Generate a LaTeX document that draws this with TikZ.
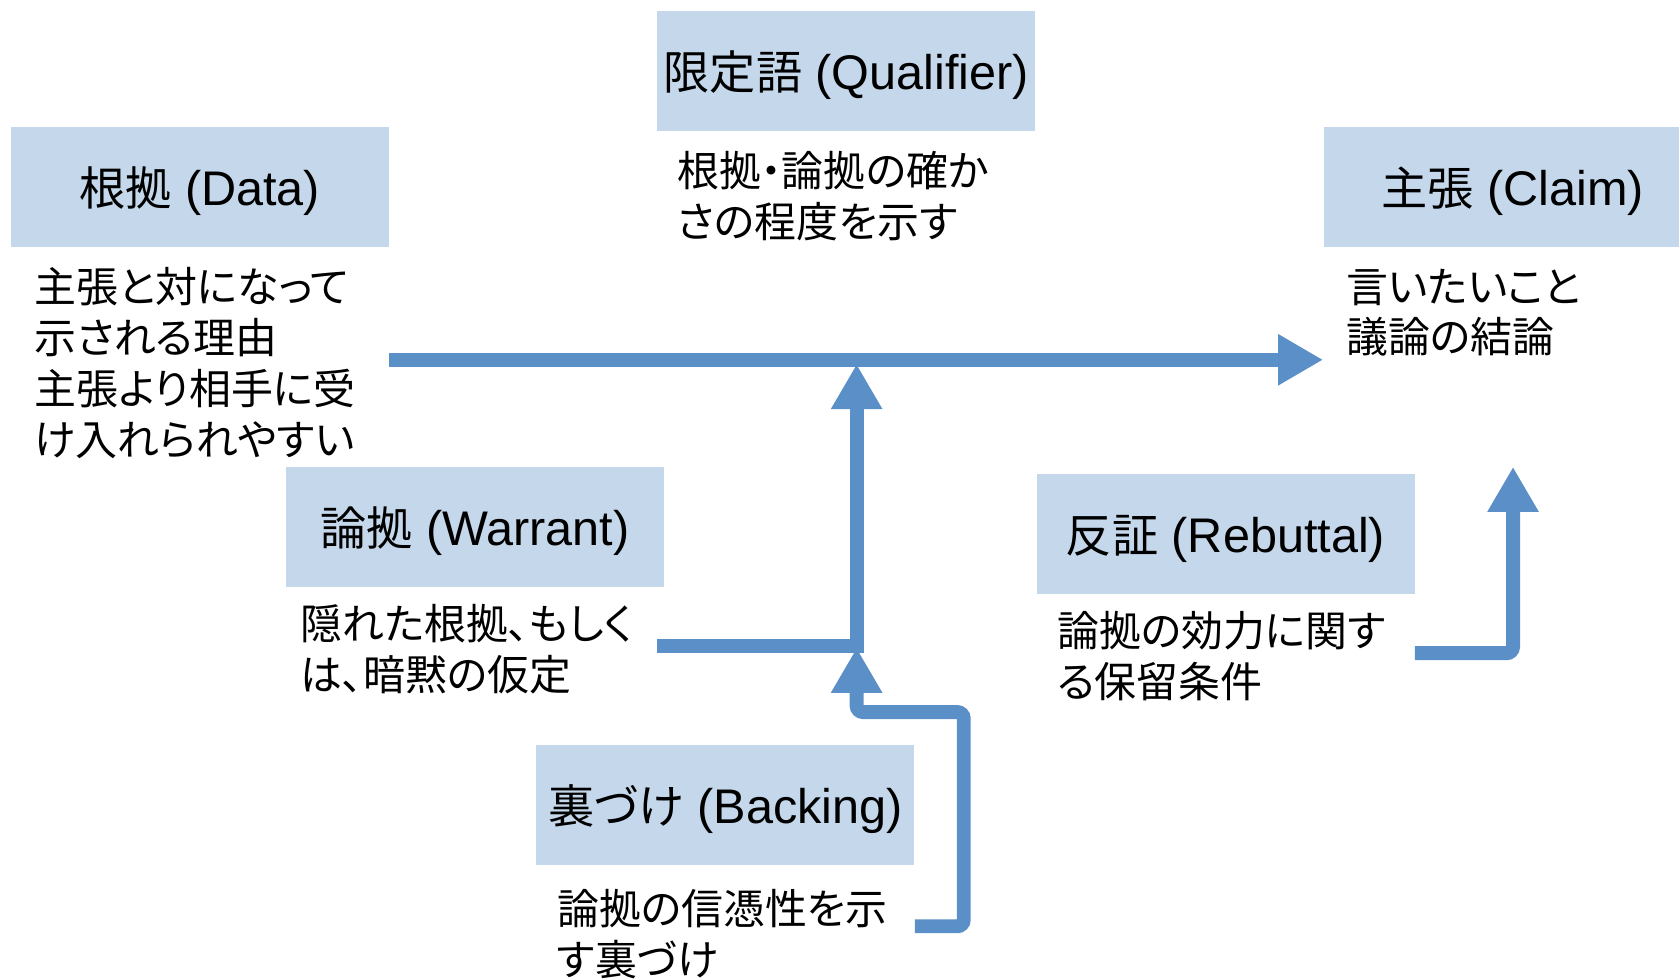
\documentclass[tikz,border=0pt]{standalone}
\usepackage{fontspec}
\setmainfont{Liberation Sans}
\newfontfamily\jp[Scale=0.95,RawFeature=+palt]{Noto Sans CJK JP}
\usetikzlibrary{arrows.meta}
\definecolor{boxblue}{RGB}{197,216,235}
\definecolor{arrowblue}{RGB}{91,143,199}
\tikzset{
  titlebox/.style={fill=boxblue, minimum width=176.5pt, minimum height=56pt, inner sep=0pt,
    text height=22pt, font=\fontsize{22.7}{27}\selectfont},
  desc/.style={anchor=west, align=left, inner sep=0pt, font=\fontsize{20.6}{23.7}\selectfont\jp},
  conn/.style={draw=arrowblue, line width=6.5pt, line join=miter},
  bighead/.style={-{Triangle[length=21pt,width=22.5pt]}}
}
\begin{document}
\begin{tikzpicture}[x=0.5pt,y=-0.5pt]
\useasboundingbox (0,0) rectangle (1568,915);
\clip (0,0) rectangle (1568,915);
% boxes
\node[titlebox] (qual) at (790.5,66) {{\jp 限定語} (Qualifier)};
\node[titlebox] (data) at (186.5,175) {{\jp 根拠} (Data)};
\node[titlebox] (claim) at (1412.5,175) {{\jp 主張} (Claim)};
\node[titlebox] (warrant) at (443.5,492) {{\jp 論拠} (Warrant)};
\node[titlebox] (rebut) at (1144.5,499) {{\jp 反証} (Rebuttal)};
\node[titlebox] (back) at (677.5,752) {{\jp 裏づけ} (Backing)};
% descriptions
\node[desc] (qualdesc) at (632,183) {根拠・論拠の確か\\さの程度を示す};
\node[desc] (datadesc) at (32,339) {主張と対になって\\示される理由\\主張より相手に受\\け入れられやすい};
\node[desc] (claimdesc) at (1257,292) {言いたいこと\\議論の結論};
\node[desc] (warrantdesc) at (280,606) {隠れた根拠、もしく\\は、暗黙の仮定};
\node[desc] (rebutdesc) at (987,613) {論拠の効力に関す\\る保留条件};
\node[desc] (backdesc) at (520,872) {論拠の信憑性を示\\す裏づけ};
% connectors
\coordinate (mainY) at (0,336);
\coordinate (wY) at (0,603);
\coordinate (wStart) at (614,603);
\coordinate (junc) at (800,603);
\coordinate (qualTip) at (800,340);
\coordinate (bY) at (0,865);
\coordinate (bR) at (900,865);
\coordinate (bTR) at (900,665);
\coordinate (bTL) at (800,665);
\coordinate (bTip) at (800,605);
\coordinate (rY) at (0,610);
\coordinate (rCorner) at (1413,610);
\coordinate (rTip) at (1413,436);
\draw[conn,bighead] (data.east |- mainY) -- (claim.west |- mainY);
\draw[conn,bighead] (wStart) -- (junc) -- (qualTip);
\draw[conn,bighead,rounded corners=3pt] (back.east |- bY) -- (bR) -- (bTR) -- (bTL) -- (bTip);
\draw[conn,bighead,rounded corners=3pt] (rebut.east |- rY) -- (rCorner) -- (rTip);
\end{tikzpicture}
\end{document}
